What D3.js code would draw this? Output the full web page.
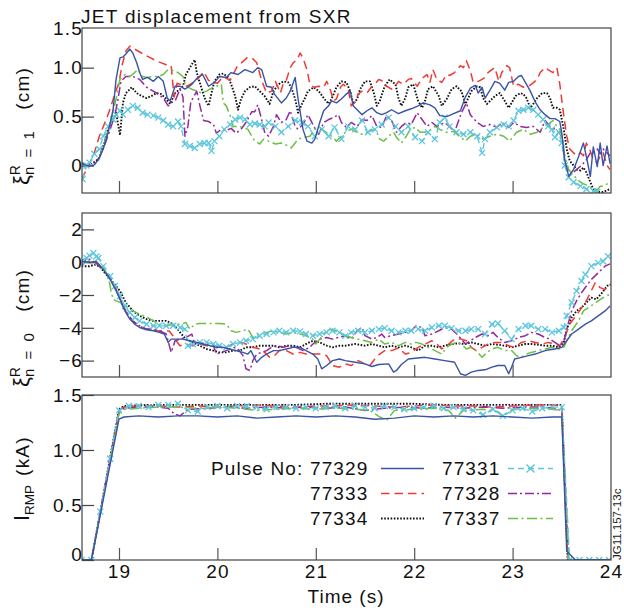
<!DOCTYPE html>
<html>
<head>
<meta charset="utf-8">
<script src="https://cdn.jsdelivr.net/npm/d3@7"></script>
<style>
  body { margin: 0; background: #fff; }
  svg text { font-family: "Liberation Sans", Arial, Helvetica, sans-serif; fill: #111; }
</style>
</head>
<body>
<svg id="chart" width="624" height="611"></svg>
<script>
// ---- data -------------------------------------------------------------
const pulses = ["77329", "77333", "77334", "77331", "77328", "77337"];
const timeTicks = [19, 20, 21, 22, 23, 24];
const timeTickLabels = ["19", "20", "21", "22", "23", "24"];
const xi1Ticks = [0, 0.5, 1.0, 1.5];
const xi1TickLabels = ["0", "0.5", "1.0", "1.5"];
const xi0Ticks = [2, 0, -2, -4, -6];
const xi0TickLabels = ["2", "0", "\u22122", "\u22124", "\u22126"];
const irmpTicks = [0, 0.5, 1.0, 1.5];
const irmpTickLabels = ["0", "0.5", "1.0", "1.5"];

// xi^R_{n=1} (cm) vs time (s)
const xi1_77329 = [[18.62,0.02],[18.67,0.0],[18.74,0.0],[18.79,0.06],[18.84,0.17],[18.89,0.34],[18.94,0.57],[18.97,0.88],[19.01,1.10],[19.04,1.11],[19.07,1.14],[19.11,1.19],[19.14,1.15],[19.18,1.05],[19.21,0.95],[19.24,0.88],[19.29,0.90],[19.35,0.86],[19.40,0.91],[19.45,0.86],[19.49,0.69],[19.52,0.66],[19.57,0.81],[19.62,0.81],[19.67,0.78],[19.74,0.83],[19.80,0.90],[19.85,0.93],[19.91,0.81],[19.97,0.85],[20.02,0.91],[20.09,0.90],[20.14,0.95],[20.21,0.93],[20.28,0.98],[20.36,0.95],[20.41,1.0],[20.45,0.98],[20.50,0.81],[20.55,0.80],[20.58,0.73],[20.65,0.64],[20.70,0.69],[20.74,0.76],[20.79,0.90],[20.82,0.68],[20.87,0.37],[20.91,0.25],[20.96,0.23],[20.99,0.27],[21.04,0.44],[21.08,0.56],[21.13,0.61],[21.16,0.66],[21.21,0.64],[21.26,0.68],[21.31,0.73],[21.35,0.76],[21.38,0.61],[21.43,0.56],[21.47,0.52],[21.52,0.56],[21.57,0.59],[21.62,0.54],[21.67,0.52],[21.72,0.54],[21.77,0.57],[21.84,0.53],[21.91,0.56],[21.97,0.58],[22.04,0.61],[22.09,0.64],[22.16,0.62],[22.21,0.59],[22.26,0.51],[22.33,0.50],[22.40,0.53],[22.47,0.56],[22.52,0.70],[22.57,0.79],[22.62,0.82],[22.65,0.74],[22.69,0.80],[22.72,0.69],[22.77,0.77],[22.82,0.86],[22.87,0.84],[22.92,0.77],[22.96,0.85],[23.01,0.86],[23.06,0.91],[23.09,0.92],[23.13,0.85],[23.18,0.76],[23.23,0.65],[23.28,0.57],[23.33,0.52],[23.38,0.48],[23.43,0.48],[23.48,0.45],[23.50,0.33],[23.53,0.06],[23.57,-0.11],[23.62,-0.04],[23.67,0.09],[23.72,0.23],[23.75,0.09],[23.79,-0.11],[23.82,0.19],[23.86,-0.01],[23.89,0.23],[23.92,0.0],[23.96,0.20],[23.99,0.02]];
const xi1_77333 = [[18.62,-0.14],[18.67,-0.04],[18.74,0.10],[18.80,0.30],[18.87,0.47],[18.92,0.61],[18.96,0.74],[19.00,0.85],[19.03,1.02],[19.07,1.17],[19.11,1.22],[19.14,1.20],[19.28,1.12],[19.40,1.06],[19.48,1.03],[19.53,1.02],[19.56,0.70],[19.59,0.84],[19.69,0.81],[19.79,0.87],[19.86,0.96],[19.91,0.87],[20.00,0.84],[20.06,0.91],[20.13,0.87],[20.20,1.01],[20.30,1.10],[20.35,1.10],[20.40,1.05],[20.45,0.87],[20.50,0.74],[20.55,0.76],[20.59,0.86],[20.64,0.74],[20.67,0.84],[20.70,0.87],[20.74,1.00],[20.77,1.05],[20.81,1.08],[20.84,1.15],[20.87,1.10],[20.91,0.98],[20.94,0.83],[20.98,0.80],[21.03,0.81],[21.08,0.80],[21.11,0.86],[21.14,0.80],[21.18,0.66],[21.21,0.68],[21.25,0.80],[21.28,0.83],[21.33,0.78],[21.36,0.61],[21.40,0.65],[21.43,0.73],[21.47,0.76],[21.52,0.74],[21.57,0.81],[21.60,0.83],[21.64,0.88],[21.69,0.86],[21.72,0.81],[21.77,0.78],[21.80,0.80],[21.84,0.86],[21.89,0.83],[21.94,0.88],[21.97,0.89],[22.03,0.81],[22.08,0.89],[22.13,0.93],[22.16,0.85],[22.19,0.98],[22.23,0.88],[22.28,0.85],[22.33,0.93],[22.36,0.92],[22.41,0.95],[22.47,1.02],[22.50,1.00],[22.53,1.07],[22.57,0.97],[22.60,0.85],[22.65,0.86],[22.69,0.88],[22.72,0.90],[22.75,0.95],[22.79,0.98],[22.82,1.00],[22.86,0.86],[22.89,0.95],[22.94,1.02],[22.97,1.00],[23.01,0.81],[23.06,0.83],[23.11,0.80],[23.16,0.81],[23.19,0.83],[23.25,0.88],[23.28,0.95],[23.33,1.00],[23.36,0.98],[23.41,0.95],[23.45,1.00],[23.48,0.83],[23.52,0.51],[23.55,0.30],[23.58,0.17],[23.62,0.13],[23.65,0.10],[23.69,0.13],[23.72,0.10],[23.75,0.23],[23.79,0.15],[23.82,0.06],[23.86,0.03],[23.89,0.10],[23.92,0.13],[23.96,0.0],[23.99,-0.04]];
const xi1_77334 = [[18.62,0.0],[18.70,0.0],[18.77,0.05],[18.80,0.08],[18.85,0.23],[18.90,0.40],[18.94,0.47],[18.97,0.54],[19.01,0.31],[19.04,0.64],[19.07,0.74],[19.13,0.80],[19.18,0.74],[19.23,0.71],[19.28,0.69],[19.33,0.71],[19.38,0.74],[19.43,0.73],[19.48,0.68],[19.52,0.63],[19.57,0.74],[19.62,0.78],[19.65,0.81],[19.68,0.93],[19.72,1.00],[19.75,1.05],[19.77,1.08],[19.79,0.95],[19.82,0.85],[19.87,0.69],[19.91,0.61],[19.94,0.74],[19.97,0.86],[20.02,0.93],[20.06,0.94],[20.11,0.90],[20.14,0.83],[20.18,0.71],[20.21,0.57],[20.24,0.68],[20.28,0.76],[20.33,0.80],[20.38,0.81],[20.43,0.76],[20.48,0.71],[20.53,0.63],[20.57,0.76],[20.62,0.83],[20.67,0.86],[20.72,0.85],[20.75,0.80],[20.79,0.68],[20.82,0.54],[20.86,0.63],[20.89,0.69],[20.92,0.76],[20.98,0.80],[21.03,0.76],[21.08,0.69],[21.13,0.63],[21.16,0.68],[21.21,0.80],[21.26,0.86],[21.31,0.85],[21.35,0.76],[21.38,0.63],[21.42,0.68],[21.45,0.78],[21.50,0.86],[21.55,0.86],[21.59,0.74],[21.62,0.61],[21.65,0.66],[21.70,0.81],[21.75,0.88],[21.81,0.83],[21.84,0.69],[21.87,0.61],[21.91,0.69],[21.94,0.80],[21.99,0.83],[22.04,0.66],[22.08,0.59],[22.11,0.66],[22.14,0.78],[22.19,0.81],[22.25,0.71],[22.28,0.61],[22.33,0.68],[22.38,0.78],[22.43,0.81],[22.48,0.76],[22.52,0.63],[22.55,0.69],[22.58,0.76],[22.64,0.81],[22.67,0.80],[22.70,0.69],[22.74,0.63],[22.77,0.66],[22.82,0.71],[22.87,0.74],[22.92,0.66],[22.96,0.59],[22.99,0.64],[23.03,0.71],[23.08,0.74],[23.11,0.73],[23.14,0.69],[23.18,0.59],[23.21,0.63],[23.25,0.69],[23.30,0.74],[23.35,0.74],[23.38,0.69],[23.41,0.59],[23.45,0.59],[23.48,0.57],[23.52,0.37],[23.55,0.17],[23.58,0.05],[23.62,0.0],[23.65,-0.04],[23.69,-0.05],[23.72,-0.02],[23.75,-0.07],[23.79,-0.17],[23.82,-0.24],[23.86,-0.27],[23.92,-0.27],[23.99,-0.24]];
const xi1_77331 = [[18.63,-0.14],[18.67,0.0],[18.70,0.03],[18.75,0.12],[18.80,0.17],[18.84,0.30],[18.89,0.40],[18.94,0.47],[18.97,0.52],[19.01,0.56],[19.04,0.52],[19.09,0.57],[19.14,0.61],[19.19,0.59],[19.24,0.54],[19.29,0.52],[19.35,0.51],[19.40,0.49],[19.45,0.46],[19.50,0.42],[19.55,0.40],[19.60,0.45],[19.63,0.40],[19.67,0.22],[19.72,0.20],[19.77,0.18],[19.82,0.22],[19.87,0.23],[19.91,0.23],[19.94,0.15],[19.97,0.25],[20.02,0.30],[20.07,0.37],[20.13,0.42],[20.18,0.47],[20.23,0.49],[20.28,0.47],[20.33,0.42],[20.38,0.43],[20.43,0.42],[20.48,0.40],[20.52,0.44],[20.59,0.40],[20.65,0.34],[20.72,0.40],[20.79,0.46],[20.86,0.44],[20.92,0.40],[20.99,0.30],[21.06,0.37],[21.13,0.30],[21.19,0.39],[21.26,0.27],[21.33,0.40],[21.40,0.37],[21.47,0.46],[21.53,0.34],[21.60,0.37],[21.67,0.42],[21.74,0.49],[21.81,0.40],[21.87,0.34],[21.94,0.40],[22.01,0.29],[22.08,0.25],[22.14,0.34],[22.21,0.27],[22.26,0.44],[22.31,0.49],[22.36,0.40],[22.43,0.34],[22.50,0.32],[22.57,0.34],[22.64,0.30],[22.69,0.13],[22.72,0.27],[22.77,0.34],[22.84,0.39],[22.91,0.42],[22.96,0.40],[23.01,0.46],[23.06,0.56],[23.11,0.57],[23.16,0.59],[23.21,0.57],[23.26,0.52],[23.31,0.47],[23.36,0.40],[23.40,0.37],[23.43,0.29],[23.47,0.34],[23.50,0.23],[23.53,0.0],[23.57,-0.12],[23.62,-0.17],[23.69,-0.21],[23.75,-0.24],[23.82,-0.26],[23.86,-0.27]];
const xi1_77328 = [[18.62,0.03],[18.67,0.01],[18.74,0.03],[18.80,0.08],[18.85,0.20],[18.90,0.34],[18.96,0.52],[18.99,0.68],[19.02,0.86],[19.07,0.91],[19.14,0.91],[19.21,0.88],[19.28,0.80],[19.33,0.77],[19.40,0.73],[19.45,0.69],[19.50,0.61],[19.53,0.64],[19.57,0.66],[19.62,0.78],[19.65,0.70],[19.67,0.30],[19.70,0.40],[19.73,0.65],[19.79,0.76],[19.82,0.62],[19.86,0.46],[19.91,0.45],[19.96,0.42],[19.99,0.33],[20.04,0.37],[20.09,0.36],[20.14,0.38],[20.19,0.33],[20.24,0.37],[20.29,0.44],[20.35,0.55],[20.38,0.55],[20.41,0.62],[20.45,0.47],[20.48,0.34],[20.52,0.30],[20.57,0.40],[20.60,0.52],[20.65,0.44],[20.70,0.47],[20.74,0.56],[20.79,0.40],[20.82,0.37],[20.87,0.42],[20.92,0.52],[20.98,0.40],[21.03,0.32],[21.08,0.44],[21.13,0.47],[21.18,0.49],[21.23,0.52],[21.26,0.44],[21.31,0.39],[21.36,0.44],[21.42,0.40],[21.47,0.47],[21.52,0.46],[21.57,0.51],[21.62,0.40],[21.67,0.39],[21.72,0.51],[21.77,0.46],[21.82,0.34],[21.87,0.40],[21.92,0.44],[21.97,0.42],[22.03,0.54],[22.08,0.47],[22.13,0.40],[22.18,0.44],[22.23,0.40],[22.31,0.44],[22.36,0.40],[22.41,0.34],[22.48,0.54],[22.53,0.64],[22.57,0.52],[22.64,0.44],[22.70,0.40],[22.77,0.42],[22.84,0.39],[22.89,0.44],[22.96,0.39],[23.01,0.44],[23.08,0.40],[23.14,0.39],[23.21,0.40],[23.28,0.34],[23.33,0.46],[23.38,0.40],[23.43,0.37],[23.47,0.34],[23.50,0.30],[23.53,0.03],[23.57,-0.07],[23.60,-0.09],[23.65,-0.04],[23.70,0.0],[23.75,0.06],[23.79,0.13],[23.82,0.12],[23.86,0.17],[23.89,0.12],[23.92,0.17],[23.96,0.13],[23.99,0.10]];
const xi1_77337 = [[18.62,0.0],[18.67,0.0],[18.74,0.0],[18.79,0.05],[18.82,0.13],[18.85,0.23],[18.90,0.40],[18.94,0.54],[18.97,0.68],[19.01,0.88],[19.06,0.93],[19.11,0.91],[19.16,0.95],[19.19,0.98],[19.24,0.91],[19.29,0.90],[19.35,0.91],[19.40,0.91],[19.45,0.93],[19.50,0.98],[19.55,0.97],[19.60,0.95],[19.65,0.91],[19.68,0.81],[19.74,0.78],[19.79,0.76],[19.84,0.74],[19.89,0.76],[19.94,0.79],[19.99,0.81],[20.04,0.83],[20.06,0.64],[20.09,0.61],[20.13,0.51],[20.16,0.40],[20.21,0.40],[20.26,0.39],[20.31,0.37],[20.35,0.30],[20.38,0.25],[20.43,0.22],[20.47,0.27],[20.52,0.25],[20.59,0.22],[20.65,0.23],[20.72,0.20],[20.75,0.18],[20.82,0.27],[20.89,0.29],[20.94,0.30],[20.99,0.37],[21.04,0.39],[21.09,0.35],[21.16,0.30],[21.21,0.25],[21.26,0.30],[21.31,0.35],[21.36,0.37],[21.42,0.34],[21.47,0.32],[21.52,0.34],[21.57,0.37],[21.62,0.34],[21.65,0.27],[21.69,0.25],[21.74,0.30],[21.79,0.34],[21.82,0.29],[21.87,0.23],[21.92,0.30],[21.96,0.37],[22.01,0.39],[22.06,0.34],[22.11,0.34],[22.16,0.36],[22.21,0.40],[22.26,0.37],[22.33,0.34],[22.40,0.35],[22.47,0.29],[22.52,0.25],[22.57,0.30],[22.64,0.32],[22.70,0.27],[22.77,0.30],[22.84,0.32],[22.91,0.30],[22.97,0.25],[23.04,0.34],[23.11,0.37],[23.18,0.32],[23.25,0.34],[23.31,0.39],[23.36,0.42],[23.41,0.46],[23.45,0.40],[23.48,0.37],[23.51,0.23],[23.53,0.10],[23.57,-0.04],[23.62,-0.10],[23.69,-0.17],[23.75,-0.20],[23.82,-0.24],[23.86,-0.25],[23.89,-0.21],[23.92,-0.21],[23.99,-0.17]];

// xi^R_{n=0} (cm) vs time (s)
const xi0_77329 = [[18.62,0.05],[18.70,0.0],[18.77,0.05],[18.84,-0.45],[18.90,-0.95],[18.96,-1.6],[19.01,-2.25],[19.06,-2.97],[19.11,-3.47],[19.16,-3.78],[19.21,-3.98],[19.28,-4.12],[19.35,-4.18],[19.41,-4.28],[19.46,-4.38],[19.50,-4.89],[19.53,-4.69],[19.58,-4.69],[19.65,-4.69],[19.72,-4.79],[19.79,-4.89],[19.85,-4.99],[19.92,-5.09],[19.99,-5.19],[20.06,-5.19],[20.12,-5.29],[20.19,-5.39],[20.26,-5.5],[20.31,-5.6],[20.34,-5.39],[20.40,-6.1],[20.45,-5.8],[20.50,-5.6],[20.57,-5.39],[20.63,-5.39],[20.70,-5.29],[20.77,-5.19],[20.84,-5.19],[20.90,-5.39],[20.97,-5.6],[21.02,-5.9],[21.06,-6.5],[21.11,-6.3],[21.17,-6.0],[21.24,-5.9],[21.30,-6.0],[21.40,-6.1],[21.50,-6.2],[21.57,-6.36],[21.64,-6.24],[21.74,-6.2],[21.79,-6.7],[21.82,-6.6],[21.87,-6.24],[21.94,-5.9],[22.01,-5.86],[22.11,-5.8],[22.21,-5.9],[22.31,-6.0],[22.41,-6.1],[22.47,-6.8],[22.52,-6.9],[22.58,-6.7],[22.65,-6.6],[22.72,-6.56],[22.79,-6.4],[22.85,-6.3],[22.92,-6.3],[22.96,-6.8],[22.99,-6.4],[23.02,-5.9],[23.09,-5.8],[23.16,-5.7],[23.23,-5.6],[23.30,-5.45],[23.36,-5.35],[23.43,-5.29],[23.50,-5.19],[23.55,-4.79],[23.60,-4.38],[23.67,-4.08],[23.74,-3.78],[23.80,-3.58],[23.87,-3.27],[23.94,-2.97],[23.99,-2.67]];
const xi0_77333 = [[18.62,0.0],[18.70,0.05],[18.77,0.0],[18.84,-0.4],[18.90,-0.9],[18.96,-1.6],[19.01,-2.2],[19.06,-2.9],[19.10,-3.3],[19.14,-3.6],[19.21,-3.9],[19.28,-4.08],[19.35,-4.15],[19.41,-4.2],[19.51,-4.2],[19.55,-4.5],[19.58,-4.79],[19.62,-5.09],[19.68,-4.99],[19.75,-5.09],[19.82,-4.99],[19.89,-5.09],[19.96,-5.09],[20.02,-5.19],[20.09,-5.19],[20.16,-4.99],[20.23,-4.89],[20.29,-4.99],[20.36,-5.19],[20.43,-5.29],[20.48,-5.5],[20.53,-5.8],[20.58,-5.7],[20.63,-5.39],[20.70,-5.39],[20.77,-5.6],[20.84,-5.5],[20.90,-5.6],[20.97,-5.6],[21.04,-5.6],[21.11,-5.7],[21.17,-6.3],[21.24,-6.4],[21.30,-6.2],[21.36,-6.3],[21.43,-6.0],[21.50,-6.2],[21.55,-6.3],[21.60,-5.9],[21.65,-5.6],[21.70,-5.39],[21.77,-5.39],[21.84,-5.23],[21.91,-5.6],[21.97,-5.5],[22.04,-5.19],[22.11,-4.99],[22.18,-4.79],[22.23,-4.99],[22.28,-5.29],[22.35,-4.99],[22.41,-4.69],[22.48,-4.69],[22.53,-4.79],[22.58,-5.19],[22.63,-5.39],[22.69,-5.19],[22.75,-4.99],[22.82,-4.89],[22.89,-4.89],[22.96,-5.09],[23.02,-5.19],[23.09,-4.89],[23.16,-4.79],[23.23,-4.89],[23.30,-4.99],[23.36,-4.89],[23.43,-4.99],[23.48,-5.09],[23.53,-4.59],[23.58,-3.78],[23.63,-3.37],[23.68,-2.97],[23.74,-2.46],[23.79,-1.86],[23.84,-1.25],[23.89,-1.55],[23.94,-1.66],[23.97,-1.45],[24.0,-1.35]];
const xi0_77334 = [[18.62,-0.25],[18.70,-0.25],[18.75,-0.15],[18.80,-0.25],[18.87,-0.75],[18.94,-1.25],[19.01,-1.76],[19.07,-2.46],[19.14,-2.97],[19.21,-3.27],[19.28,-3.47],[19.35,-3.58],[19.48,-3.58],[19.55,-3.78],[19.62,-4.28],[19.68,-4.69],[19.75,-4.89],[19.82,-5.09],[19.89,-5.29],[19.96,-5.39],[20.02,-5.5],[20.09,-5.5],[20.16,-5.39],[20.23,-5.39],[20.29,-5.19],[20.36,-5.19],[20.43,-5.09],[20.50,-5.09],[20.57,-5.09],[20.63,-5.19],[20.70,-5.09],[20.77,-5.09],[20.84,-5.19],[20.90,-4.99],[20.97,-4.79],[21.04,-4.89],[21.11,-5.09],[21.17,-5.19],[21.24,-5.09],[21.30,-5.09],[21.40,-4.99],[21.50,-5.09],[21.57,-4.99],[21.64,-5.09],[21.70,-5.19],[21.77,-5.09],[21.84,-5.19],[21.91,-5.09],[21.97,-5.19],[22.04,-5.39],[22.11,-5.09],[22.18,-5.09],[22.25,-5.19],[22.31,-5.09],[22.38,-4.99],[22.45,-4.95],[22.52,-4.99],[22.58,-4.89],[22.65,-4.99],[22.72,-5.09],[22.79,-4.99],[22.85,-5.03],[22.92,-5.09],[22.99,-5.19],[23.06,-5.09],[23.13,-4.99],[23.19,-4.99],[23.26,-5.03],[23.33,-5.09],[23.40,-5.09],[23.47,-5.19],[23.52,-4.89],[23.55,-4.08],[23.60,-3.37],[23.65,-2.97],[23.70,-2.77],[23.75,-2.46],[23.80,-2.16],[23.85,-2.26],[23.91,-1.86],[23.96,-1.45],[24.0,-1.35]];
const xi0_77331 = [[18.62,0.06],[18.67,0.26],[18.70,0.4],[18.74,0.57],[18.77,0.35],[18.79,0.26],[18.84,-0.24],[18.91,-0.85],[18.96,-1.45],[19.01,-2.06],[19.06,-2.67],[19.11,-3.07],[19.16,-3.37],[19.21,-3.58],[19.28,-3.78],[19.35,-3.88],[19.41,-3.88],[19.48,-3.88],[19.55,-3.88],[19.62,-3.98],[19.67,-4.08],[19.70,-5.09],[19.75,-4.99],[19.82,-4.89],[19.89,-4.89],[19.96,-4.99],[20.02,-5.09],[20.09,-5.19],[20.16,-4.99],[20.23,-4.89],[20.29,-4.79],[20.36,-4.69],[20.43,-4.48],[20.50,-4.38],[20.57,-4.28],[20.63,-4.18],[20.70,-4.28],[20.77,-4.18],[20.84,-4.22],[20.90,-4.38],[20.97,-4.48],[21.04,-4.38],[21.11,-4.28],[21.17,-4.18],[21.24,-4.28],[21.30,-4.49],[21.36,-4.28],[21.43,-4.18],[21.50,-4.28],[21.57,-4.18],[21.64,-4.08],[21.70,-4.02],[21.77,-4.18],[21.84,-4.28],[21.91,-4.18],[21.97,-4.18],[22.04,-4.08],[22.11,-4.18],[22.18,-3.98],[22.25,-3.88],[22.31,-3.88],[22.38,-4.02],[22.45,-4.18],[22.52,-4.18],[22.58,-4.08],[22.65,-4.08],[22.72,-4.38],[22.79,-3.78],[22.85,-3.74],[22.92,-4.18],[22.99,-4.69],[23.06,-4.08],[23.13,-3.88],[23.19,-3.88],[23.26,-4.08],[23.33,-4.08],[23.40,-4.28],[23.47,-4.18],[23.52,-3.98],[23.55,-3.27],[23.60,-2.46],[23.65,-1.76],[23.70,-1.15],[23.74,-0.75],[23.80,-0.24],[23.87,-0.04],[23.92,0.06],[23.97,0.36]];
const xi0_77328 = [[18.62,-0.25],[18.67,0.26],[18.74,0.06],[18.84,-0.45],[18.91,-0.95],[18.97,-1.65],[19.02,-2.46],[19.07,-2.97],[19.14,-3.58],[19.21,-3.88],[19.28,-4.08],[19.35,-4.08],[19.41,-4.18],[19.48,-4.38],[19.53,-5.5],[19.57,-4.79],[19.62,-4.69],[19.68,-4.59],[19.74,-4.38],[19.77,-4.99],[19.82,-4.89],[19.89,-4.99],[19.96,-5.09],[19.99,-5.6],[20.04,-5.5],[20.09,-5.39],[20.16,-5.19],[20.21,-5.29],[20.26,-5.7],[20.29,-6.5],[20.33,-6.6],[20.36,-6.0],[20.40,-5.6],[20.45,-5.5],[20.50,-5.39],[20.55,-5.19],[20.60,-5.09],[20.67,-5.19],[20.73,-5.09],[20.80,-5.19],[20.87,-5.39],[20.94,-5.19],[20.97,-4.99],[21.04,-4.69],[21.11,-4.59],[21.17,-4.69],[21.23,-4.59],[21.30,-4.48],[21.36,-4.69],[21.42,-4.18],[21.47,-3.98],[21.50,-4.48],[21.57,-4.69],[21.62,-4.59],[21.67,-4.38],[21.70,-4.59],[21.77,-4.48],[21.84,-4.38],[21.91,-4.28],[21.97,-4.18],[22.02,-3.88],[22.08,-3.98],[22.11,-4.48],[22.18,-4.38],[22.25,-4.18],[22.31,-3.98],[22.38,-4.08],[22.45,-4.48],[22.52,-4.99],[22.57,-4.79],[22.62,-4.59],[22.69,-4.38],[22.75,-4.48],[22.80,-4.28],[22.85,-4.59],[22.92,-4.89],[22.99,-4.79],[23.06,-4.59],[23.13,-4.48],[23.19,-4.28],[23.26,-4.38],[23.33,-4.59],[23.38,-4.69],[23.43,-4.89],[23.48,-5.09],[23.52,-4.89],[23.55,-4.08],[23.60,-2.97],[23.65,-2.36],[23.70,-1.86],[23.75,-1.45],[23.80,-1.05],[23.87,-0.65],[23.94,-0.24],[23.99,-0.1]];
const xi0_77337 = [[18.62,0.06],[18.70,-0.04],[18.77,-0.15],[18.84,-0.35],[18.89,-0.85],[18.92,-1.76],[18.94,-2.26],[18.97,-2.36],[19.02,-2.46],[19.07,-2.67],[19.14,-2.97],[19.21,-3.17],[19.28,-3.33],[19.35,-3.58],[19.41,-3.78],[19.48,-3.88],[19.55,-3.78],[19.62,-3.78],[19.68,-3.68],[19.72,-4.08],[19.77,-3.78],[19.82,-3.74],[19.89,-3.74],[19.96,-3.74],[20.02,-3.74],[20.09,-3.78],[20.14,-4.18],[20.19,-4.28],[20.26,-4.18],[20.31,-4.08],[20.36,-4.59],[20.43,-4.38],[20.50,-4.28],[20.57,-4.18],[20.63,-4.28],[20.70,-4.38],[20.77,-4.28],[20.84,-4.38],[20.90,-4.48],[20.97,-4.69],[21.00,-4.99],[21.04,-4.69],[21.11,-4.18],[21.17,-4.08],[21.24,-4.28],[21.31,-4.48],[21.36,-4.59],[21.43,-4.69],[21.50,-4.79],[21.57,-4.89],[21.64,-4.69],[21.70,-4.99],[21.77,-4.89],[21.84,-5.09],[21.91,-4.89],[21.97,-4.99],[22.02,-4.89],[22.08,-4.99],[22.14,-5.19],[22.21,-5.39],[22.28,-5.6],[22.33,-5.19],[22.38,-4.99],[22.43,-4.89],[22.48,-4.99],[22.53,-5.29],[22.58,-5.19],[22.63,-5.39],[22.69,-5.8],[22.74,-5.5],[22.79,-5.29],[22.85,-5.19],[22.92,-5.39],[22.99,-5.39],[23.04,-5.7],[23.09,-5.8],[23.14,-5.6],[23.19,-5.5],[23.26,-5.39],[23.33,-5.29],[23.40,-5.19],[23.47,-5.29],[23.52,-5.19],[23.55,-4.79],[23.60,-4.18],[23.67,-3.58],[23.72,-2.97],[23.77,-2.77],[23.82,-2.57],[23.87,-2.36],[23.92,-2.16],[23.97,-2.0],[24.0,-2.06]];

// I_RMP (kA) vs time (s)
const irmp_77329 = [[18.62,0],[18.72,0],[19.00,1.28],[19.05,1.30],[19.2,1.31],[19.4,1.30],[19.6,1.31],[19.8,1.31],[20.0,1.30],[20.2,1.31],[20.4,1.29],[20.6,1.30],[20.8,1.31],[21.0,1.30],[21.2,1.31],[21.4,1.30],[21.6,1.28],[21.8,1.29],[22.0,1.31],[22.2,1.30],[22.4,1.31],[22.6,1.30],[22.8,1.31],[23.0,1.30],[23.2,1.29],[23.4,1.30],[23.50,1.30],[23.55,0.08],[23.64,0],[24.0,0]];
const irmp_77333 = [[18.62,0],[18.72,0],[19.00,1.36],[19.05,1.39],[19.2,1.40],[19.4,1.40],[19.6,1.39],[19.8,1.40],[20.0,1.39],[20.2,1.40],[20.4,1.41],[20.6,1.40],[20.8,1.39],[21.0,1.40],[21.2,1.40],[21.4,1.41],[21.6,1.40],[21.8,1.39],[22.0,1.40],[22.2,1.41],[22.4,1.40],[22.6,1.40],[22.8,1.39],[23.0,1.40],[23.2,1.41],[23.4,1.41],[23.50,1.40],[23.56,0],[24.0,0]];
const irmp_77334 = [[18.62,0],[18.72,0],[19.00,1.37],[19.05,1.40],[19.3,1.41],[19.6,1.41],[19.9,1.41],[20.2,1.41],[20.5,1.41],[20.8,1.41],[21.1,1.42],[21.4,1.42],[21.7,1.42],[22.0,1.42],[22.3,1.41],[22.6,1.41],[22.9,1.41],[23.2,1.41],[23.50,1.41],[23.56,0],[24.0,0]];
const irmp_77331 = [[18.62,0],[18.72,0],[18.81,0.44],[18.91,0.92],[19.0,1.36],[19.1,1.40],[19.2,1.40],[19.3,1.39],[19.4,1.41],[19.5,1.41],[19.6,1.42],[19.7,1.36],[19.8,1.35],[19.9,1.39],[20.0,1.40],[20.1,1.38],[20.2,1.40],[20.3,1.40],[20.4,1.39],[20.5,1.37],[20.6,1.39],[20.7,1.39],[20.8,1.38],[20.9,1.39],[21.0,1.38],[21.1,1.39],[21.2,1.40],[21.3,1.38],[21.4,1.40],[21.5,1.39],[21.6,1.38],[21.7,1.40],[21.8,1.39],[21.9,1.37],[22.0,1.38],[22.1,1.39],[22.2,1.40],[22.3,1.38],[22.4,1.39],[22.5,1.37],[22.6,1.36],[22.7,1.32],[22.8,1.37],[22.9,1.31],[23.0,1.36],[23.1,1.38],[23.2,1.35],[23.3,1.38],[23.4,1.39],[23.5,1.39],[23.58,0],[23.68,0],[23.78,0],[23.88,0],[23.98,0]];
const irmp_77328 = [[18.62,0],[18.72,0],[19.00,1.34],[19.05,1.38],[19.2,1.39],[19.4,1.39],[19.5,1.38],[19.56,1.33],[19.62,1.31],[19.7,1.37],[19.9,1.38],[20.1,1.39],[20.3,1.38],[20.5,1.39],[20.7,1.38],[20.9,1.39],[21.1,1.38],[21.3,1.39],[21.5,1.36],[21.7,1.38],[21.9,1.39],[22.1,1.38],[22.3,1.39],[22.5,1.38],[22.7,1.39],[22.9,1.38],[23.1,1.39],[23.3,1.39],[23.42,1.38],[23.50,1.36],[23.57,0],[24.0,0]];
const irmp_77337 = [[18.62,0],[18.72,0],[19.00,1.33],[19.05,1.37],[19.2,1.38],[19.4,1.39],[19.6,1.39],[19.8,1.38],[20.0,1.39],[20.2,1.38],[20.4,1.36],[20.6,1.37],[20.8,1.38],[21.0,1.37],[21.2,1.38],[21.4,1.37],[21.55,1.36],[21.65,1.30],[21.72,1.27],[21.8,1.36],[22.0,1.37],[22.2,1.38],[22.35,1.36],[22.42,1.29],[22.5,1.36],[22.7,1.37],[22.85,1.35],[22.9,1.31],[23.0,1.37],[23.2,1.38],[23.4,1.37],[23.50,1.36],[23.57,0],[24.0,0]];

// ---- line styles per pulse --------------------------------------------
const styles = {
  "77329": { color: "#3953a5", dash: null,           width: 1.4 },
  "77333": { color: "#ef3b36", dash: "8.5,5",        width: 1.5 },
  "77334": { color: "#111111", dash: "1.6,1.6",      width: 1.9 },
  "77331": { color: "#5cc6dd", dash: "6,4",          width: 1.4, marker: true },
  "77328": { color: "#93299b", dash: "9,3,2,3",      width: 1.5 },
  "77337": { color: "#6cbf45", dash: "10,3.5,2,3.5", width: 1.5 }
};

const seriesTable = [
  { pulse: "77329", xi1: xi1_77329, xi0: xi0_77329, irmp: irmp_77329 },
  { pulse: "77333", xi1: xi1_77333, xi0: xi0_77333, irmp: irmp_77333 },
  { pulse: "77334", xi1: xi1_77334, xi0: xi0_77334, irmp: irmp_77334 },
  { pulse: "77331", xi1: xi1_77331, xi0: xi0_77331, irmp: irmp_77331 },
  { pulse: "77328", xi1: xi1_77328, xi0: xi0_77328, irmp: irmp_77328 },
  { pulse: "77337", xi1: xi1_77337, xi0: xi0_77337, irmp: irmp_77337 }
];
// drawing order, back to front
const drawOrder = ["77334", "77333", "77328", "77337", "77331", "77329"];

// ---- layout -----------------------------------------------------------
const svg = d3.select("#chart");
const plotLeft = 82, plotRight = 611;
const x = d3.scaleLinear().domain([18.624, 24]).range([plotLeft, plotRight]);

const panels = [
  { key: "xi1",  top: 28,  bottom: 193, domain: [-0.28, 1.405], ticks: xi1Ticks,  labels: xi1TickLabels },
  { key: "xi0",  top: 213, bottom: 377, domain: [-7, 3],        ticks: xi0Ticks,  labels: xi0TickLabels },
  { key: "irmp", top: 395, bottom: 560, domain: [0, 1.5],       ticks: irmpTicks, labels: irmpTickLabels }
];

const defs = svg.append("defs");

panels.forEach(p => {
  const y = d3.scaleLinear().domain(p.domain).range([p.bottom, p.top]);
  const clipId = "clip-" + p.key;
  defs.append("clipPath").attr("id", clipId)
    .append("rect").attr("x", plotLeft).attr("y", p.top)
    .attr("width", plotRight - plotLeft).attr("height", p.bottom - p.top);

  const g = svg.append("g");

  // inward ticks along the bottom edge
  const xAxis = d3.axisTop(x).tickValues(timeTicks.filter(t => x(t) < plotRight - 1))
    .tickSize(12).tickFormat("");
  g.append("g").attr("transform", `translate(0,${p.bottom})`).call(xAxis)
    .call(a => a.select(".domain").remove())
    .call(a => a.selectAll("line").attr("stroke", "#555").attr("stroke-width", 1.2));

  // inward ticks along the left edge
  const inside = p.ticks.filter(v => v >= p.domain[0] && v <= p.domain[1]);
  const yAxis = d3.axisRight(y).tickValues(inside).tickSize(12).tickFormat("");
  g.append("g").attr("transform", `translate(${plotLeft},0)`).call(yAxis)
    .call(a => a.select(".domain").remove())
    .call(a => a.selectAll("line").attr("stroke", "#444").attr("stroke-width", 1.2));

  // tick labels, kept inside the panel height
  g.selectAll("text.ylab").data(p.ticks).enter().append("text")
    .attr("class", "ylab")
    .attr("x", plotLeft + 1)
    .attr("y", v => Math.min(Math.max(y(v), p.top + 0.5), p.bottom - 6) + 6.8)
    .attr("text-anchor", "end")
    .style("font-size", "19px").style("letter-spacing", "1.2px")
    .text((v, k) => p.labels[k]);

  // data lines
  const line = d3.line().x(d => x(d[0])).y(d => y(d[1]));
  const plot = g.append("g").attr("clip-path", `url(#${clipId})`);
  drawOrder.forEach(pulse => {
    const s = styles[pulse];
    const data = seriesTable.find(r => r.pulse === pulse)[p.key];
    plot.append("path").datum(data)
      .attr("d", line)
      .attr("fill", "none")
      .attr("stroke", s.color)
      .attr("stroke-width", s.width)
      .attr("stroke-dasharray", s.dash)
      .attr("stroke-linejoin", "round");
    if (s.marker) {
      plot.selectAll(null).data(data).enter().append("path")
        .attr("transform", d => `translate(${x(d[0])},${y(d[1])})`)
        .attr("d", "M-3,-3L3,3M-3,3L3,-3")
        .attr("stroke", s.color).attr("stroke-width", 1.3).attr("fill", "none");
    }
  });

  // frame
  g.append("rect").attr("x", plotLeft).attr("y", p.top)
    .attr("width", plotRight - plotLeft).attr("height", p.bottom - p.top)
    .attr("fill", "none").attr("stroke", "#444").attr("stroke-width", 1.2);
});

// time tick labels under the last panel
svg.selectAll("text.xlab").data(timeTicks).enter().append("text")
  .attr("class", "xlab")
  .attr("x", t => x(t) + 0.6).attr("y", 578)
  .attr("text-anchor", "middle")
  .style("font-size", "19px").style("letter-spacing", "1.2px")
  .text((t, k) => timeTickLabels[k]);

svg.append("text").attr("x", 346).attr("y", 603).attr("text-anchor", "middle")
  .style("font-size", "19px").style("letter-spacing", "1px").text("Time (s)");

// title
svg.append("text").attr("x", 81).attr("y", 22.5)
  .style("font-size", "19px").style("letter-spacing", "1.3px")
  .text("JET displacement from SXR");

// rotated axis titles, read from the bottom upwards
function axisTitle(xPos, yPos, parts) {
  const t = svg.append("text")
    .attr("transform", `translate(${xPos},${yPos}) rotate(-90)`)
    .attr("text-anchor", "start");
  parts.forEach(q => {
    const s = t.append("tspan").text(q.text).style("font-size", q.size + "px");
    if (q.dx) s.attr("dx", q.dx);
    if (q.dy) s.attr("dy", q.dy);
    if (q.ls) s.style("letter-spacing", q.ls + "px");
  });
}
axisTitle(29, 185, [
  { text: "\u03be", size: 22 },
  { text: "R", size: 14, dy: -9.5 },
  { text: "n = 1", size: 15, dx: -10, dy: 14, ls: 2.5 },
  { text: "(cm)", size: 19, dx: 19, dy: -4.5, ls: 1.2 }
]);
axisTitle(29, 387, [
  { text: "\u03be", size: 22 },
  { text: "R", size: 14, dy: -9.5 },
  { text: "n = 0", size: 15, dx: -10, dy: 14, ls: 2.5 },
  { text: "(cm)", size: 19, dx: 19, dy: -4.5, ls: 1.2 }
]);
axisTitle(29, 521, [
  { text: "I", size: 22 },
  { text: "RMP", size: 13.5, dy: 5 },
  { text: "(kA)", size: 19, dx: 9, dy: -5, ls: 1.2 }
]);

// legend
const legendRows = [["77329", "77331"], ["77333", "77328"], ["77334", "77337"]];
const legend = svg.append("g");
legend.append("text").attr("x", 211).attr("y", 475)
  .style("font-size", "19px").style("letter-spacing", "1.1px").text("Pulse No:");
legendRows.forEach((row, r) => {
  const base = 475 + r * 25;
  row.forEach((pulse, c) => {
    const tx = c === 0 ? 310 : 442;
    const lx0 = c === 0 ? 381 : 508, lx1 = c === 0 ? 424 : 553;
    const s = styles[pulse];
    legend.append("text").attr("x", tx).attr("y", base)
      .style("font-size", "19px").style("letter-spacing", "1.1px").text(pulse);
    legend.append("line").attr("x1", lx0).attr("x2", lx1)
      .attr("y1", base - 6.5).attr("y2", base - 6.5)
      .attr("stroke", s.color).attr("stroke-width", s.width)
      .attr("stroke-dasharray", s.dash);
    if (s.marker) {
      legend.append("path")
        .attr("transform", `translate(${(lx0 + lx1) / 2},${base - 6.5})`)
        .attr("d", "M-4,-4L4,4M-4,4L4,-4")
        .attr("stroke", s.color).attr("stroke-width", 1.4);
    }
  });
});

// figure reference code
svg.append("text").attr("transform", "translate(620.5,560) rotate(-90)")
  .style("font-size", "11.5px").style("fill", "#222").text("JG11.157-13c");
</script>
</body>
</html>
